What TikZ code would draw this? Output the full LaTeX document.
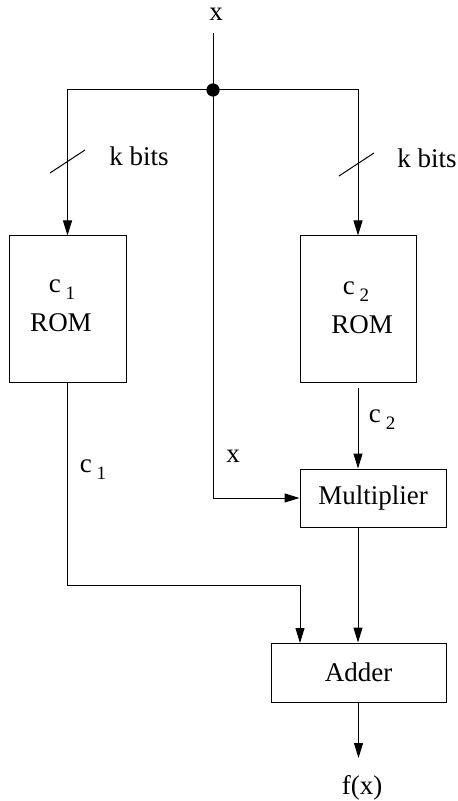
\documentclass[tikz,border=0pt]{standalone}
\usepackage{fontspec}
\setmainfont{Liberation Serif}
\usetikzlibrary{arrows.meta}
\newcommand{\subidx}[1]{\kern2.5pt\raisebox{-3.5pt}{\fontsize{9.5}{9.5}\selectfont #1}}
\begin{document}
\begin{tikzpicture}[x=0.5pt,y=-0.5pt,
  font=\fontsize{13.5}{15}\selectfont,
  wire/.style={line width=0.5pt},
  arr/.style={wire,-{Triangle[length=7.5pt,width=4.5pt]}},
  blk/.style={draw,line width=0.5pt,inner sep=0pt,align=center},
  lbl/.style={inner sep=0pt}]
\useasboundingbox (0,0) rectangle (457,801);
% blocks
\node[blk,minimum width=58.5pt,minimum height=73pt] (romL) at (67.5,309) {};
\node[blk,minimum width=58pt,minimum height=73pt] (romR) at (358,309) {};
\node[blk,minimum width=73pt,minimum height=29pt] (mult) at (373,498) {Multiplier};
\node[blk,minimum width=87.5pt,minimum height=29.5pt] (adder) at (358.5,672.5) {Adder};
% texts in blocks
\node[lbl] (c1in) at (62,290) {c\subidx{1}};
\node[lbl] (rom1) at (61,323) {ROM};
\node[lbl] (c2in) at (356,292) {c\subidx{2}};
\node[lbl] (rom2) at (362,325) {ROM};
% input
\node[lbl] (xin) at (216,14) {x};
\coordinate (xtop) at (213,33);
\coordinate (dot) at (213,90);
\coordinate (lcorner) at (67.5,90);
\coordinate (rcorner) at (358,90);
\fill (dot) circle (3.3pt);
\draw[wire] (xtop) -- (dot);
\draw[arr] (dot) -- (lcorner) -- (romL.north);
\draw[arr] (dot) -- (rcorner) -- (romR.north);
% bus slashes
\coordinate (s1a) at (50,173); \coordinate (s1b) at (85,150);
\coordinate (s2a) at (339,176); \coordinate (s2b) at (374,153);
\draw[wire] (s1a) -- (s1b);
\draw[wire] (s2a) -- (s2b);
\node[lbl] (kb1) at (139,156) {k bits};
\node[lbl] (kb2) at (427,158) {k bits};
% x to multiplier
\draw[arr] (dot) |- (mult.west);
\node[lbl] (xlab) at (233,456) {x};
% c2 to multiplier
\coordinate (c2s) at (358,388);
\draw[arr] (c2s) -- (c2s |- mult.north);
\node[lbl] (c2lab) at (382,420) {c\subidx{2}};
% c1 to adder
\coordinate (bendL) at (67.5,585);
\coordinate (addInL) at (300,643);
\draw[arr] (romL.south) -- (bendL) -| (addInL);
\node[lbl] (c1lab) at (93,470) {c\subidx{1}};
% mult to adder
\coordinate (mOut) at (358,527);
\draw[arr] (mOut) -- (mOut |- adder.north);
% output
\coordinate (out) at (358.5,758);
\draw[arr] (adder.south) -- (out);
\node[lbl] (fx) at (362,788) {f(x)};
\end{tikzpicture}
\end{document}
